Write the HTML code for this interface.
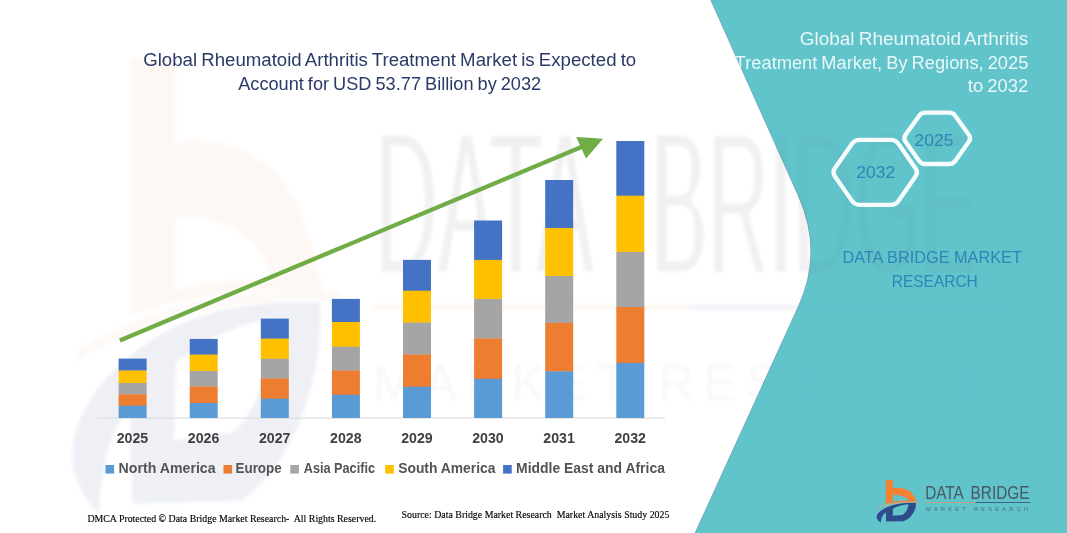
<!DOCTYPE html>
<html lang="en">
<head>
<meta charset="utf-8">
<title>Global Rheumatoid Arthritis Treatment Market</title>
<style>
html,body{margin:0;padding:0;background:#fff;}
body{width:1067px;height:533px;overflow:hidden;position:relative;font-family:"Liberation Sans",sans-serif;}
svg{position:absolute;left:0;top:0;display:block;}
.t1{font-family:"Liberation Sans",sans-serif;font-size:18px;fill:#2b3a67;word-spacing:-1px;}
.t2{font-family:"Liberation Sans",sans-serif;font-size:18px;fill:#eaf7f8;word-spacing:-1px;}
.hx{font-family:"Liberation Sans",sans-serif;font-size:17px;fill:#2f86b6;}
.db{font-family:"Liberation Sans",sans-serif;font-size:17px;fill:#2f84b8;}
.ax{font-family:"Liberation Sans",sans-serif;font-size:14.4px;font-weight:bold;fill:#404040;}
.lg{font-family:"Liberation Sans",sans-serif;font-size:14.4px;font-weight:bold;fill:#535358;}
.ft{font-family:"Liberation Serif",serif;font-size:10.5px;fill:#000;stroke:#000;stroke-width:0.15px;}
.lgo{font-family:"Liberation Sans",sans-serif;font-size:18px;fill:#4a5866;word-spacing:4px;}
.lgs{font-family:"Liberation Sans",sans-serif;font-size:5.5px;fill:#46525e;fill-opacity:0.8;}
.wm{font-family:"Liberation Sans",sans-serif;}
</style>
</head>
<body>
<svg width="1067" height="533" viewBox="0 0 1067 533">
<defs>
<clipPath id="tealclip"><path d="M710.7,0 L1067,0 L1067,533 L695,533 L798.5,306 Q823.2,251.7 798.3,196 Z"/></clipPath>
<filter id="wblur" x="-5%" y="-5%" width="110%" height="110%"><feGaussianBlur stdDeviation="1.6"/></filter>
<filter id="wthin" x="-5%" y="-5%" width="110%" height="110%"><feMorphology operator="erode" radius="0 4"/><feGaussianBlur stdDeviation="1.8"/></filter>
<g id="bicon">
<path id="bo" fill="#F58233" fill-rule="evenodd" d="M885.8,480.05 L892.85,480.05 L892.85,487.8 C899,487.2 905,488.5 908.9,490.6 C912.5,493 915.5,497.5 916.2,501.9 C906,501.2 894,502.3 885.8,504 Z M892.85,495.1 C898,494.3 903,495.8 905.5,497.4 C907,498.5 908,499.8 908.3,500.8 C903,500.6 897,501 892.85,501.6 Z"/>
<path id="bn" fill="#2E4C8C" fill-rule="evenodd" d="M915.9,502.8 C916.6,509 912.2,518 903.3,521.3 L886.1,521.6 L885.8,512.6 C883.5,514 881.2,517 880.8,522.5 C877.5,520.5 876.2,518 876.8,516.3 C877.5,511.5 886,506.5 896.5,504.2 C903,502.9 910,502.6 915.9,502.8 Z M893,508.4 C897,506.5 903,504.7 908.3,504.2 C908.3,509 905.5,513.5 902,515 L892.7,515.7 Z"/>
<path id="bs" fill="none" stroke="#D9A77A" stroke-width="0.9" d="M877.3,507.8 C888,503.6 905,501.6 919.3,502.3"/>
</g>
</defs>
<rect width="1067" height="533" fill="#ffffff"/>
<!-- teal panel -->
<path d="M710.7,0 L1067,0 L1067,533 L695,533 L798.5,306 Q823.2,251.7 798.3,196 Z" fill="#62C4CB"/>
<!-- watermark -->
<g filter="url(#wblur)"><g transform="translate(382.9,127) scale(6.3,10.7) translate(-925.9,-486.4)">
<use href="#bo" opacity="0.055"/><use href="#bs" opacity="0.07"/><use href="#bn" opacity="0.085"/>
</g></g>
<g opacity="0.055" filter="url(#wblur)">
<rect x="373" y="304" width="315" height="6" fill="#F58233"/>
<rect x="688" y="304" width="312" height="6" fill="#2E4C8C"/>
</g>
<g opacity="0.065" filter="url(#wthin)">
<text class="wm" x="375" y="274" font-size="204" fill="#333" stroke="#333" stroke-width="3" textLength="219" lengthAdjust="spacingAndGlyphs">DATA</text>
<text class="wm" x="651" y="274" font-size="204" fill="#333" stroke="#333" stroke-width="3" textLength="326" lengthAdjust="spacingAndGlyphs">BRIDGE</text>
</g>
<g opacity="0.03" filter="url(#wblur)">
<text class="wm" x="373" y="400" font-size="50" fill="#333" textLength="627" lengthAdjust="spacing">MARKET RESEARCH</text>
</g>
<path d="M710.7,0 L1067,0 L1067,533 L695,533 L798.5,306 Q823.2,251.7 798.3,196 Z" fill="#62C4CB" fill-opacity="0.5"/>
<path d="M710.7,0 L798.3,196 Q823.2,251.7 798.5,306 L695,533" fill="none" stroke="#5a6a9a" stroke-opacity="0.35" stroke-width="1"/>
<!-- title -->
<text class="t1" x="143.2" y="66" textLength="493" lengthAdjust="spacingAndGlyphs">Global Rheumatoid Arthritis Treatment Market is Expected to</text>
<text class="t1" x="238.2" y="89.8" textLength="303" lengthAdjust="spacingAndGlyphs">Account for USD 53.77 Billion by 2032</text>
<!-- axis -->
<rect x="97" y="417.6" width="568" height="1" fill="#D9D9D9"/>
<rect x="118.6" y="358.6" width="28" height="12.2" fill="#4472C4"/>
<rect x="118.6" y="370.5" width="28" height="12.8" fill="#FFC000"/>
<rect x="118.6" y="383.0" width="28" height="11.6" fill="#A5A5A5"/>
<rect x="118.6" y="394.3" width="28" height="11.7" fill="#ED7D31"/>
<rect x="118.6" y="405.7" width="28" height="12.3" fill="#5B9BD5"/>
<text x="132.5" y="443.2" class="ax" text-anchor="middle" textLength="31.5" lengthAdjust="spacingAndGlyphs">2025</text>
<rect x="189.7" y="338.9" width="28" height="16.0" fill="#4472C4"/>
<rect x="189.7" y="354.6" width="28" height="16.7" fill="#FFC000"/>
<rect x="189.7" y="371.0" width="28" height="15.8" fill="#A5A5A5"/>
<rect x="189.7" y="386.5" width="28" height="16.8" fill="#ED7D31"/>
<rect x="189.7" y="403.0" width="28" height="15.0" fill="#5B9BD5"/>
<text x="203.6" y="443.2" class="ax" text-anchor="middle" textLength="31.5" lengthAdjust="spacingAndGlyphs">2026</text>
<rect x="260.8" y="318.6" width="28" height="20.3" fill="#4472C4"/>
<rect x="260.8" y="338.6" width="28" height="20.5" fill="#FFC000"/>
<rect x="260.8" y="358.8" width="28" height="20.0" fill="#A5A5A5"/>
<rect x="260.8" y="378.5" width="28" height="20.5" fill="#ED7D31"/>
<rect x="260.8" y="398.7" width="28" height="19.3" fill="#5B9BD5"/>
<text x="274.7" y="443.2" class="ax" text-anchor="middle" textLength="31.5" lengthAdjust="spacingAndGlyphs">2027</text>
<rect x="331.9" y="298.9" width="28" height="23.4" fill="#4472C4"/>
<rect x="331.9" y="322.0" width="28" height="25.0" fill="#FFC000"/>
<rect x="331.9" y="346.7" width="28" height="24.2" fill="#A5A5A5"/>
<rect x="331.9" y="370.6" width="28" height="24.5" fill="#ED7D31"/>
<rect x="331.9" y="394.8" width="28" height="23.2" fill="#5B9BD5"/>
<text x="345.8" y="443.2" class="ax" text-anchor="middle" textLength="31.5" lengthAdjust="spacingAndGlyphs">2028</text>
<rect x="403.0" y="259.9" width="28" height="31.1" fill="#4472C4"/>
<rect x="403.0" y="290.7" width="28" height="32.2" fill="#FFC000"/>
<rect x="403.0" y="322.6" width="28" height="32.2" fill="#A5A5A5"/>
<rect x="403.0" y="354.5" width="28" height="32.5" fill="#ED7D31"/>
<rect x="403.0" y="386.7" width="28" height="31.3" fill="#5B9BD5"/>
<text x="416.9" y="443.2" class="ax" text-anchor="middle" textLength="31.5" lengthAdjust="spacingAndGlyphs">2029</text>
<rect x="474.1" y="220.5" width="28" height="39.7" fill="#4472C4"/>
<rect x="474.1" y="259.9" width="28" height="39.4" fill="#FFC000"/>
<rect x="474.1" y="299.0" width="28" height="39.7" fill="#A5A5A5"/>
<rect x="474.1" y="338.4" width="28" height="40.7" fill="#ED7D31"/>
<rect x="474.1" y="378.8" width="28" height="39.2" fill="#5B9BD5"/>
<text x="488.0" y="443.2" class="ax" text-anchor="middle" textLength="31.5" lengthAdjust="spacingAndGlyphs">2030</text>
<rect x="545.2" y="180.0" width="28" height="48.4" fill="#4472C4"/>
<rect x="545.2" y="228.1" width="28" height="48.2" fill="#FFC000"/>
<rect x="545.2" y="276.0" width="28" height="47.2" fill="#A5A5A5"/>
<rect x="545.2" y="322.9" width="28" height="48.8" fill="#ED7D31"/>
<rect x="545.2" y="371.4" width="28" height="46.6" fill="#5B9BD5"/>
<text x="559.1" y="443.2" class="ax" text-anchor="middle" textLength="31.5" lengthAdjust="spacingAndGlyphs">2031</text>
<rect x="616.3" y="141.0" width="28" height="55.0" fill="#4472C4"/>
<rect x="616.3" y="195.7" width="28" height="56.5" fill="#FFC000"/>
<rect x="616.3" y="251.9" width="28" height="55.4" fill="#A5A5A5"/>
<rect x="616.3" y="307.0" width="28" height="56.2" fill="#ED7D31"/>
<rect x="616.3" y="362.9" width="28" height="55.1" fill="#5B9BD5"/>
<text x="630.2" y="443.2" class="ax" text-anchor="middle" textLength="31.5" lengthAdjust="spacingAndGlyphs">2032</text>
<!-- arrow -->
<g fill="#70AD47" stroke="none">
<line x1="119.85" y1="340.4" x2="582" y2="146.7" stroke="#70AD47" stroke-width="4.3"/>
<path d="M603,138.7 L576.2,137.1 L586,158.4 Z"/>
</g>
<!-- legend -->
<rect x="105.5" y="465" width="8.6" height="8.6" fill="#5B9BD5"/>
<text class="lg" x="118.6" y="472.5" textLength="97" lengthAdjust="spacingAndGlyphs">North America</text>
<rect x="223.5" y="465" width="8.6" height="8.6" fill="#ED7D31"/>
<text class="lg" x="235.5" y="472.5" textLength="46.2" lengthAdjust="spacingAndGlyphs">Europe</text>
<rect x="290.3" y="465" width="8.6" height="8.6" fill="#A5A5A5"/>
<text class="lg" x="303.8" y="472.5" textLength="71.2" lengthAdjust="spacingAndGlyphs">Asia Pacific</text>
<rect x="385.2" y="465" width="8.6" height="8.6" fill="#FFC000"/>
<text class="lg" x="398.2" y="472.5" textLength="97.3" lengthAdjust="spacingAndGlyphs">South America</text>
<rect x="503.1" y="465" width="8.6" height="8.6" fill="#4472C4"/>
<text class="lg" x="516.1" y="472.5" textLength="148.8" lengthAdjust="spacingAndGlyphs">Middle East and Africa</text>
<!-- footers -->
<text class="ft" x="87.4" y="522.4" textLength="288.8" lengthAdjust="spacingAndGlyphs" style="white-space:pre">DMCA Protected © Data Bridge Market Research-  All Rights Reserved.</text>
<text class="ft" x="401.6" y="518.2" textLength="267.8" lengthAdjust="spacingAndGlyphs" style="white-space:pre">Source: Data Bridge Market Research  Market Analysis Study 2025</text>
<!-- right panel text -->
<text class="t2" x="1028.3" y="45" text-anchor="end" textLength="228.5" lengthAdjust="spacingAndGlyphs">Global Rheumatoid Arthritis</text>
<text class="t2" clip-path="url(#tealclip)" x="1028.3" y="68.6" text-anchor="end" textLength="293.5" lengthAdjust="spacingAndGlyphs">Treatment Market, By Regions, 2025</text>
<text class="t2" x="1028.3" y="92" text-anchor="end" textLength="60.5" lengthAdjust="spacingAndGlyphs">to 2032</text>
<!-- white wedge over clipped T -->
<!-- hexagons -->
<g fill="none" stroke="#f6fcfc" stroke-width="4.3" stroke-linejoin="round">
<path d="M834.8,176.2 Q832.1,172.3 834.8,168.4 L852.0,143.7 Q854.7,139.8 859.5,139.8 L890.9,139.8 Q895.7,139.8 898.4,143.7 L915.6,168.4 Q918.3,172.3 915.6,176.2 L898.4,200.9 Q895.7,204.8 890.9,204.8 L859.5,204.8 Q854.7,204.8 852.0,200.9 Z"/>
<path d="M905.4,141.6 Q903.1,138.3 905.4,135.0 L919.0,115.9 Q921.3,112.7 925.3,112.7 L949.1,112.7 Q953.1,112.7 955.4,115.9 L969.0,135.0 Q971.3,138.3 969.0,141.6 L955.4,160.7 Q953.1,164.0 949.1,164.0 L925.3,164.0 Q921.3,164.0 919.0,160.7 Z"/>
</g>
<text class="hx" x="856.3" y="177.7" textLength="38.8" lengthAdjust="spacingAndGlyphs">2032</text>
<text class="hx" x="914.6" y="146" textLength="38.8" lengthAdjust="spacingAndGlyphs">2025</text>
<text class="db" x="842.4" y="262.6" textLength="179.5" lengthAdjust="spacingAndGlyphs">DATA BRIDGE MARKET</text>
<text class="db" x="891.8" y="286.6" textLength="86" lengthAdjust="spacingAndGlyphs">RESEARCH</text>
<!-- logo -->
<use href="#bicon"/>
<text class="lgo" x="925.2" y="499.2" textLength="104.2" lengthAdjust="spacingAndGlyphs">DATA BRIDGE</text>
<rect x="925.9" y="502" width="50" height="0.9" fill="#C9A07A"/>
<rect x="975.7" y="502" width="54.3" height="0.9" fill="#3b5a78"/>
<text class="lgs" x="926" y="511.3" textLength="102" lengthAdjust="spacing">MARKET RESEARCH</text>
</svg>
</body>
</html>
